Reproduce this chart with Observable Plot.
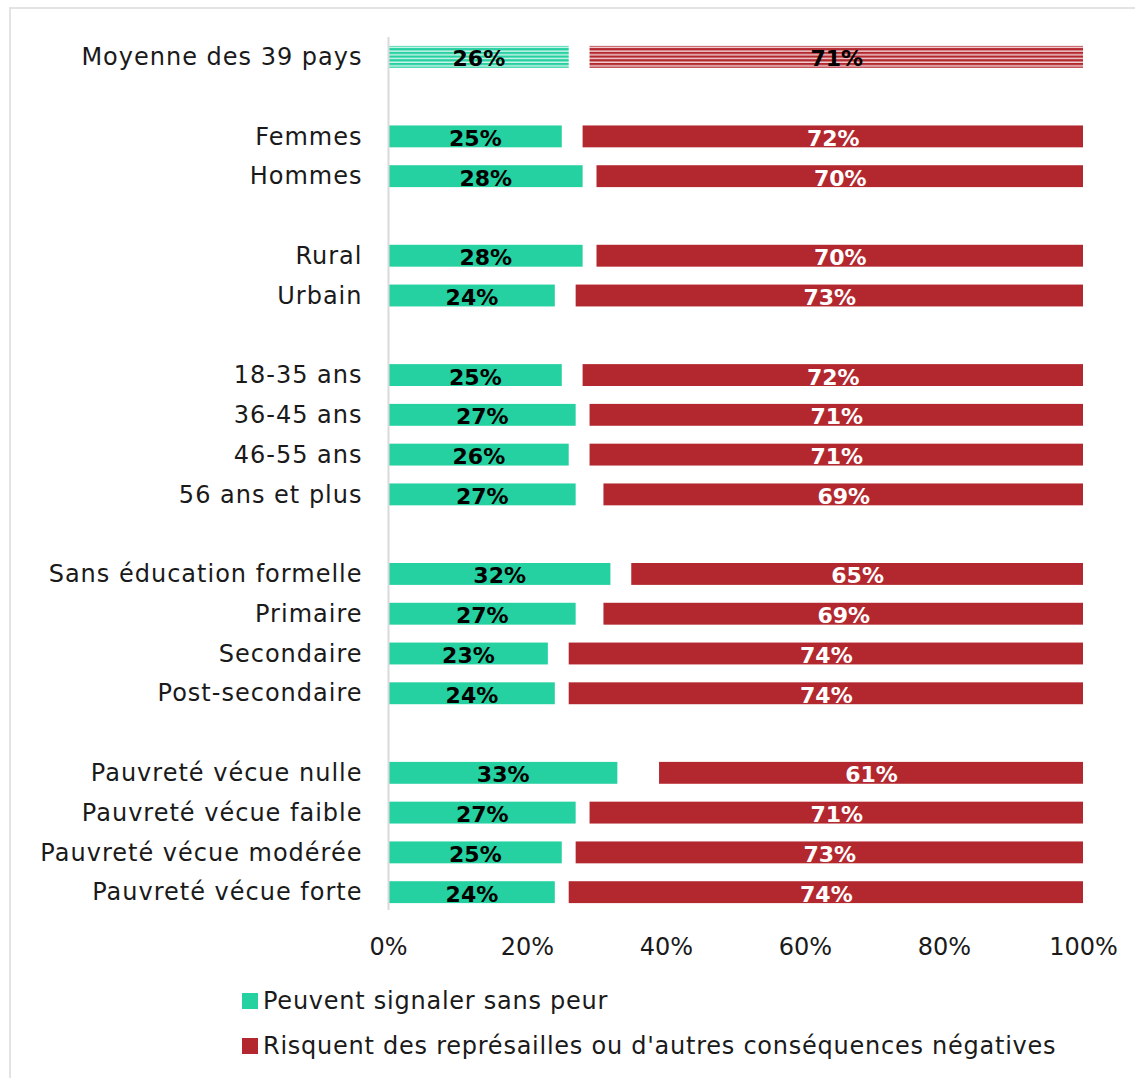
<!DOCTYPE html>
<html>
<head>
<meta charset="utf-8">
<script src="https://cdn.jsdelivr.net/npm/d3@7"></script>
<script src="https://cdn.jsdelivr.net/npm/@observablehq/plot@0.6"></script>
<style>
  html, body { margin: 0; padding: 0; background: #fff; overflow: hidden; }
  #wrap { position: relative; width: 1135px; height: 1078px; font-family: "DejaVu Sans", sans-serif; color: #1a1a1a; }
  #frame { position: absolute; left: 9px; top: 7px; width: 1200px; height: 1200px; border: 2px solid #e3e3e3; box-sizing: border-box; }
  #chart { position: absolute; left: 0; top: 0; }
  .legend { position: absolute; left: 242px; font-size: 24px; letter-spacing: 0.75px; display: flex; align-items: center; white-space: nowrap; }
  .legend .sw { width: 16px; height: 16px; margin-right: 5px; display: inline-block; }
  .ylab text { letter-spacing: 1px; }
</style>
</head>
<body>
<div id="wrap">
  <div id="frame"></div>
  <div id="chart"></div>
  <div class="legend" style="top:987px"><span class="sw" style="background:#25d0a1"></span>Peuvent signaler sans peur</div>
  <div class="legend" style="top:1032px"><span class="sw" style="background:#b3282f"></span>Risquent des représailles ou d'autres conséquences négatives</div>
</div>
<script>
// Groups of categories (a blank row separates groups)
const groups = [
  ["Moyenne des 39 pays"],
  ["Femmes", "Hommes"],
  ["Rural", "Urbain"],
  ["18-35 ans", "36-45 ans", "46-55 ans", "56 ans et plus"],
  ["Sans éducation formelle", "Primaire", "Secondaire", "Post-secondaire"],
  ["Pauvreté vécue nulle", "Pauvreté vécue faible", "Pauvreté vécue modérée", "Pauvreté vécue forte"]
];
const categories = groups.flat();
// % who can report without fear
const greenValues = [26, 25, 28, 28, 24, 25, 27, 26, 27, 32, 27, 23, 24, 33, 27, 25, 24];
// % who risk reprisals
const redValues   = [71, 72, 70, 70, 73, 72, 71, 71, 69, 65, 69, 74, 74, 61, 71, 73, 74];
const xTicks = [0, 20, 40, 60, 80, 100];
const seriesNames = ["Peuvent signaler sans peur", "Risquent des représailles ou d'autres conséquences négatives"];

const GREEN = "#25d0a1", RED = "#b3282f";

// y domain with spacer slots between groups
const domain = [];
groups.forEach((g, i) => {
  if (i > 0) domain.push("__gap" + i);
  domain.push(...g);
});

const rows = categories.map((c, i) => ({
  cat: c, g: greenValues[i], r: redValues[i], avg: i === 0
}));
const normal = rows.filter(d => !d.avg);
const avg = rows.filter(d => d.avg);

const chart = Plot.plot({
  width: 1135,
  height: 975,
  marginLeft: 388,
  marginRight: 52,
  marginTop: 28,
  marginBottom: 54,
  style: { fontFamily: "DejaVu Sans, sans-serif", fontSize: "22px", color: "#1a1a1a", background: "transparent" },
  x: { domain: [0, 100], ticks: xTicks, tickFormat: d => d + "%", tickSize: 0, tickPadding: 16, label: null },
  y: { domain, padding: 0.45, round: false, tickSize: 0, tickPadding: 26, label: null, tickFormat: d => d.startsWith("__gap") ? "" : d },
  marks: [
    Plot.barX(normal, { y: "cat", x1: 0, x2: "g", fill: GREEN }),
    Plot.barX(normal, { y: "cat", x1: d => 100 - d.r, x2: 100, fill: RED }),
    Plot.barX(avg, { y: "cat", x1: 0, x2: "g", fill: "url(#hatch-green)" }),
    Plot.barX(avg, { y: "cat", x1: d => 100 - d.r, x2: 100, fill: "url(#hatch-red)" }),
    Plot.ruleX([0], { stroke: "#dadada", strokeWidth: 2, insetTop: 9, insetBottom: 11 }),
    Plot.text(rows, { y: "cat", x: d => d.g / 2, text: d => d.g + "%", fill: "#000", fontWeight: "bold", fontSize: 22, dy: 2 }),
    Plot.text(rows, { y: "cat", x: d => 100 - d.r / 2, text: d => d.r + "%", fill: d => d.avg ? "#000" : "#fff", fontWeight: "bold", fontSize: 22, dy: 2 })
  ]
});

const svg = d3.select(chart);
// enlarge tick labels
svg.selectAll("g[aria-label='y-axis tick label'], g[aria-label='y-axis']")
  .attr("font-size", 24).classed("ylab", true);
svg.selectAll("g[aria-label='x-axis tick label'], g[aria-label='x-axis']")
  .attr("font-size", 24);

// hatch patterns for the average row
const defs = svg.insert("defs", ":first-child");
[["hatch-green", GREEN, "#d6f5ec"], ["hatch-red", RED, "#f2d6d7"]].forEach(([id, col, bg]) => {
  const p = defs.append("pattern").attr("id", id).attr("patternUnits", "userSpaceOnUse")
    .attr("width", 10).attr("height", 3.7);
  p.append("rect").attr("x", 0).attr("y", 0).attr("width", 10).attr("height", 3.7).attr("fill", bg);
  p.append("rect").attr("x", 0).attr("y", 0).attr("width", 10).attr("height", 2.3).attr("fill", col);
});

document.getElementById("chart").appendChild(chart);
</script>
</body>
</html>
